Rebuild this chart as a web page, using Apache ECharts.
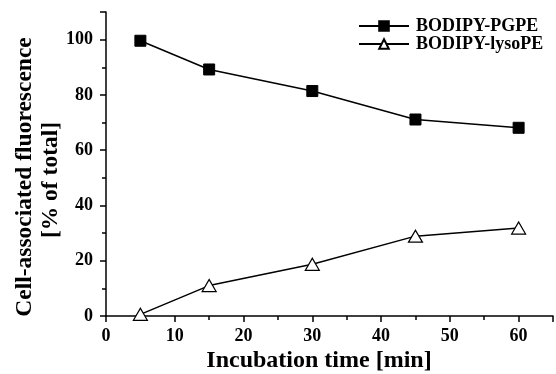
<!DOCTYPE html>
<html><head><meta charset="utf-8">
<script src="https://cdn.jsdelivr.net/npm/echarts@6/dist/echarts.min.js"></script>
<style>html,body{margin:0;padding:0;background:#fff}#c{width:556px;height:374px}</style>
</head><body><div id="c"></div>
<script>
var times = [5, 15, 30, 45, 60];
var pgpe = [99.6, 89.2, 81.4, 71.1, 68.1];
var lysoPE = [0.6, 11, 18.7, 28.9, 31.8];
var xTicks = [0, 10, 20, 30, 40, 50, 60];
var yTicks = [0, 20, 40, 60, 80, 100];
var seriesNames = ['BODIPY-PGPE', 'BODIPY-lysoPE'];
var xTitle = 'Incubation time [min]';
var yTitle1 = 'Cell-associated fluorescence';
var yTitle2 = '[% of total]';

var FONT = '"Liberation Serif", "Times New Roman", serif';
var chart = echarts.init(document.getElementById('c'), null, {renderer: 'canvas'});
function pairs(xs, ys) { return xs.map(function (x, i) { return [x, ys[i]]; }); }
var axisCommon = {
  axisLine: {show: true, lineStyle: {color: '#000', width: 1.5}},
  axisTick: {show: true, inside: false, length: 6, lineStyle: {color: '#000', width: 1.5}},
  minorTick: {show: true, splitNumber: 2, length: 4, lineStyle: {color: '#000', width: 1.5}},
  splitLine: {show: false},
  axisLabel: {color: '#000', fontFamily: FONT, fontWeight: 'bold', fontSize: 18}
};
chart.setOption({
  animation: false,
  backgroundColor: '#fff',
  grid: {left: 106, right: 2, top: 12, bottom: 58, containLabel: false},
  xAxis: Object.assign({}, axisCommon, {
    type: 'value', min: 0, max: 65, interval: 10,
    axisLabel: Object.assign({}, axisCommon.axisLabel, {margin: 11,
      formatter: function (v) { return xTicks.indexOf(v) >= 0 ? String(v) : ''; }})
  }),
  yAxis: Object.assign({}, axisCommon, {
    type: 'value', min: 0, max: 110, interval: 20,
    axisLabel: Object.assign({}, axisCommon.axisLabel, {margin: 13,
      formatter: function (v) { return yTicks.indexOf(v) >= 0 ? String(v) : ''; }})
  }),
  legend: {
    left: 353, top: 12, orient: 'vertical', itemGap: 0,
    itemWidth: 50, itemHeight: 12,
    textStyle: {color: '#000', fontFamily: FONT, fontWeight: 'bold', fontSize: 18, lineHeight: 17, padding: [0,0,0,2]},
    data: seriesNames
  },
  series: [
    {name: seriesNames[0], type: 'line', data: pairs(times, pgpe),
      symbol: 'rect', symbolSize: 11,
      itemStyle: {color: '#000', borderColor: '#000', borderWidth: 1},
      lineStyle: {color: '#000', width: 1.5}},
    {name: seriesNames[1], type: 'line', data: pairs(times, lysoPE),
      symbol: 'triangle', symbolSize: [14, 12],
      itemStyle: {color: '#fff', borderColor: '#000', borderWidth: 1.2},
      lineStyle: {color: '#000', width: 1.5}}
  ],
  graphic: [
    {type: 'text', x: 319, y: 361, style: {text: xTitle, fill: '#000', font: 'bold 24px ' + FONT, textAlign: 'center', textVerticalAlign: 'middle'}},
    {type: 'text', x: 25, y: 177, rotation: Math.PI / 2, style: {text: yTitle1, fill: '#000', font: 'bold 23.5px ' + FONT, textAlign: 'center', textVerticalAlign: 'middle'}},
    {type: 'text', x: 51, y: 180, rotation: Math.PI / 2, style: {text: yTitle2, fill: '#000', font: 'bold 23.5px ' + FONT, textAlign: 'center', textVerticalAlign: 'middle'}}
  ]
});
</script></body></html>
